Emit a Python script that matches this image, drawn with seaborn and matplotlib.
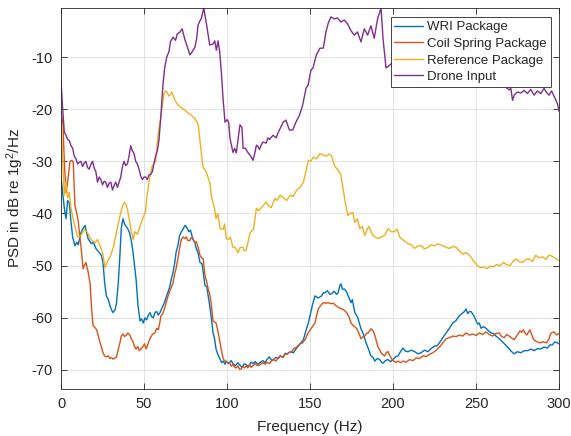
import numpy as np
import pandas as pd
import matplotlib
matplotlib.use("Agg")
import matplotlib.pyplot as plt
import seaborn as sns

series_names = ["WRI Package", "Coil Spring Package", "Reference Package", "Drone Input"]
series_colors = ["#0072BD", "#D95319", "#EDB120", "#7E2F8E"]

wri_f = [0, 1, 2, 3, 4, 5, 6, 7, 8.4, 9.5, 10.4, 12, 13, 14.5, 16.3, 18.3, 19.5, 21, 23, 24.3,
         25.3, 26.3, 27.3, 28.5, 29.5, 30.5, 31.3, 32.5, 33.4, 34.5, 35.5, 36.3, 37.3, 38.3, 39.3,
         40.3, 41.3, 42.5, 43.4, 45.2, 46.4, 47.6, 48.6, 49.6, 50.6, 51.6, 52.6, 53.6, 54.6, 55.6,
         56.6, 57.6, 58.6, 59.6, 61.4, 62.4, 63.4, 65.4, 66.5, 67.5, 68.5, 69.3, 70.5, 71.5, 72.5,
         73.5, 74.7, 75.5, 77, 78, 79.5, 80.5, 81.5, 82.7, 83.7, 84.9, 85.7, 86.7, 87.8, 88.7, 89.5,
         90.4, 91.6, 92.5, 93.4, 94.5, 95.8, 96.8, 97.8, 98.8, 99.6, 101, 102.5, 103.6, 105, 106.5,
         107.6, 109, 110.5, 111.6, 113, 114.5, 115.6, 117, 118.5, 120, 121.5, 123, 124, 125.5, 127,
         128, 129.5, 131, 132, 134, 135, 136, 138, 140, 141.5, 143, 144.5, 146, 147.5, 149, 150.4,
         151.5, 153, 155, 157, 158, 159, 160.5, 162, 163, 164.5, 166, 167, 168, 168.7, 169.5, 170.8,
         172, 173, 174.7, 175.5, 177, 178, 179, 180.7, 182, 183, 184, 185, 186.7, 188, 189, 190.5,
         192, 193, 194, 195.5, 197, 198.5, 200, 201.5, 203, 204.5, 206, 207.5, 209, 211, 213, 215,
         217, 219, 221, 223, 225, 226.5, 228, 230, 232, 234, 236, 238, 240, 241.5, 243, 244, 245,
         246, 247, 248.5, 249.5, 251, 252, 253, 254.5, 256, 257.5, 259, 260.5, 262, 264, 266, 268,
         270, 271.5, 273, 275, 277, 279, 281, 283, 285, 287, 289, 291, 293, 294.5, 296, 297.5, 299, 300]
wri_v = [-33, -36, -39, -41, -37.5, -38, -41.5, -44.5, -46.2, -45.5, -46, -43.7, -43, -42.3, -44.8,
         -45.8, -45.5, -46.7, -47.5, -48, -49.4, -53.3, -55.8, -56.5, -57.7, -58.5, -59, -58.5, -57.3,
         -53.3, -48, -42.9, -41, -42, -42.5, -43, -43.7, -45.5, -47.5, -52.5, -57.7, -60.6, -60.2, -61,
         -60, -60.4, -59.5, -59, -59.8, -60, -59, -58.8, -59.5, -59, -57.7, -57, -56, -54.2, -52.5,
         -51.3, -49.5, -47.5, -46, -44.2, -43.5, -43, -42.3, -42.5, -43.5, -43.2, -45, -45.5, -46.7,
         -47.7, -49.4, -49.6, -51.3, -53.8, -54, -55.8, -57.5, -59.6, -62.9, -64, -66, -67, -67.9,
         -68.6, -68.3, -68.9, -68.3, -68.8, -68.2, -68.8, -69.2, -68.6, -69, -69.5, -68.8, -69, -69.3,
         -68.5, -68.8, -68.4, -68.9, -68.6, -68.2, -68.6, -68, -67.5, -68.2, -68, -67.6, -67.8, -67.3,
         -67.5, -66.8, -67, -66.5, -66.7, -66, -65.4, -64.8, -64.2, -62.5, -61, -59, -57.5, -55.8,
         -56.2, -55.8, -55.2, -55.2, -54.8, -55.5, -55.4, -54.9, -55.5, -55.2, -53.8, -53.5, -54.5,
         -54.5, -55, -55.8, -57.1, -56.5, -59, -59.5, -60.2, -62.1, -63, -64, -65, -65.8, -67.3, -67.6,
         -68.3, -67.8, -68, -68.5, -68.7, -68.2, -68, -68.4, -68, -67.5, -67.3, -66.5, -65.8, -66.4,
         -66.5, -66.2, -66.5, -66.9, -66.7, -66.2, -66.5, -65.9, -65.4, -65.4, -64.8, -63.8, -62.9,
         -62, -61, -60.5, -59.6, -59.2, -58.8, -58.3, -59.2, -58.8, -58.8, -59.5, -60.2, -61.2, -61,
         -62, -61.7, -62, -62.5, -62.9, -63, -63.5, -64, -64.6, -65.3, -66, -66.5, -66.9, -66.5, -66.7,
         -66.3, -66.3, -66, -66.3, -65.9, -66, -65.6, -65.8, -65.2, -65.2, -64.6, -64.8, -65]

coil_f = [0, 1.2, 2, 3, 4, 5.4, 6.5, 7.4, 8.4, 9.5, 10.4, 11.2, 12, 13.3, 14, 15, 16.2, 17.5, 18.3,
          19.3, 20.3, 21.5, 22.5, 23.5, 24.3, 25.3, 26.3, 27.3, 28.5, 29.5, 30.5, 31.3, 32.3, 33.4,
          34.5, 35.5, 36.3, 37.3, 38.3, 39.3, 40.3, 41.4, 42.4, 43.4, 44.3, 45.2, 46.2, 47.2, 48.2,
          49.2, 50.3, 51.3, 52.4, 53.6, 55, 56.6, 57.6, 58.6, 59.5, 60.2, 61.3, 62.3, 63.4, 64.5, 66,
          67.5, 68.5, 69.3, 70.5, 71.7, 72.5, 73.5, 74.5, 75.5, 76.5, 77.5, 78.5, 79.5, 80.5, 81.5,
          82.6, 83.7, 84.7, 85.7, 86.7, 87.7, 88.7, 89.6, 90.4, 91.6, 92.5, 93.4, 94.5, 95.8, 96.8,
          97.8, 98.8, 100, 101.6, 102.6, 103.6, 104.6, 105.6, 106.6, 107.6, 108.6, 109.6, 110.6, 111.6,
          112.6, 113.6, 114.6, 115.6, 117, 118.5, 120, 121.5, 123, 124, 125.5, 127, 128, 129.5, 131,
          132, 133.5, 135, 136, 137.5, 139, 140, 142, 144, 145.5, 147, 148.8, 150.6, 152, 153, 154, 155,
          156.5, 158, 159.5, 161, 162.5, 164, 165, 167, 169, 170.5, 172, 173.5, 174.7, 176, 178, 179.5,
          180.7, 182, 183, 184, 185, 186.7, 188, 189, 190, 191, 192.5, 193.5, 195, 196, 197, 198.5,
          199.5, 200.5, 201.8, 203, 204.5, 206, 208, 210, 212, 214, 216, 218, 220, 222, 224, 226, 228,
          230, 232, 234, 236, 238, 240, 242, 244, 246, 248, 250, 252, 254, 256, 258, 260, 262, 264,
          265.5, 267, 268.5, 270, 271.5, 273, 274.5, 276.5, 277.5, 278.5, 279.5, 280.5, 281.5, 282.5,
          283.5, 284.5, 286, 288.5, 290.5, 292.5, 294, 295, 296, 297, 298.5, 300]
coil_v = [-20.5, -23, -30, -36, -34, -30, -29.8, -30.2, -38.5, -40, -41.5, -44, -46.2, -50.6, -50,
          -49.4, -51, -53.3, -57.7, -61.5, -61.8, -62.3, -63.5, -64.8, -65.5, -66.7, -67.3, -67.5,
          -67.3, -67.8, -67.6, -67.9, -67.8, -67.5, -66, -64.8, -63.5, -63.1, -63.6, -63.3, -62.9,
          -63.3, -64, -64.6, -65.5, -66, -65.5, -66.3, -65.9, -65.6, -65, -66, -65, -64, -63.2, -62.9,
          -62, -62.3, -61, -59.6, -59.2, -58.3, -57, -55.8, -54.5, -53.3, -51.5, -50.6, -48.5, -46.2,
          -45, -44.5, -44.8, -44.5, -45.2, -45.2, -44.6, -44.8, -45.6, -45.4, -46.5, -48, -48.5, -48.8,
          -51.9, -53, -54.5, -55.5, -57.1, -60.6, -60.8, -61, -62.5, -64.8, -66.5, -67.9, -68.3, -68.5,
          -68.7, -69.3, -68.9, -69.5, -69.6, -69.2, -69.9, -69.8, -69.3, -69.6, -69.2, -69.6, -69,
          -69.5, -69.2, -68.8, -69.2, -69, -68.6, -68.9, -68.5, -68.8, -68.2, -68, -68.3, -67.6, -67.3,
          -67.6, -67, -67, -66.6, -66.5, -66, -65.6, -65, -64.8, -64.2, -62.9, -62.1, -61.5, -61,
          -59.5, -58.3, -57.6, -57.1, -57.2, -57.1, -57.3, -57.2, -57.5, -58, -58.3, -58.5, -59, -59.8,
          -61, -61.5, -62, -63, -64, -63.6, -63.5, -63, -62.9, -62.1, -62.5, -63.3, -64.5, -65.6, -66.5,
          -67, -67.3, -66.6, -66.5, -67.5, -68, -68.3, -68.6, -68.3, -68.6, -68.3, -68.5, -68, -68.2,
          -67.7, -67.8, -67.3, -67.4, -67, -66.7, -66.2, -65.6, -64.8, -64, -63.8, -63.5, -63.6, -63.3,
          -63.5, -62.9, -63.3, -63.1, -63.4, -62.9, -63.2, -62.7, -63.2, -63.5, -63, -62.9, -63.6,
          -63.8, -63.2, -63.5, -63.9, -64.2, -63.5, -62.5, -62.8, -62.3, -62.9, -63.3, -62.8, -62.3,
          -63.2, -64, -64.5, -64.8, -64.6, -64.8, -64, -63, -62.8, -62.7, -63.3, -63]

ref_f = [0, 1, 2, 3, 4, 5, 6, 8, 10, 12, 14, 16, 18, 20.5, 22, 23.5, 25, 26.5, 28.3, 30, 31.5, 33,
         34.5, 36, 37.5, 38.5, 39.5, 40.4, 42, 43.5, 44.5, 46, 47.5, 49.5, 51, 51.7, 53, 54.7, 57,
         58.6, 60.7, 62, 63, 63.8, 65, 65.7, 66.7, 68, 68.7, 70, 71.7, 73, 74.7, 76, 77.7, 79, 80.7,
         82.7, 83.7, 85.5, 87.5, 88.5, 89.8, 90.5, 91.6, 92.5, 93.4, 94.5, 95.8, 97.8, 98.5, 99.6, 101,
         102, 103.6, 105, 106.6, 108, 109.6, 110.5, 111.6, 113, 113.9, 116, 117.7, 119, 121.7, 123.6,
         125, 126.6, 128.9, 130, 132, 134, 136, 138, 140, 142, 144, 146, 147.5, 149, 150.5, 152, 154,
         156, 158, 160, 161.5, 163, 165, 166.5, 168.5, 169.5, 170.8, 172.8, 174, 175.8, 177, 178.5,
         180, 181.5, 183, 184.5, 185.5, 187.5, 189, 191, 193, 195, 197, 199, 200.5, 202.5, 204, 205,
         207, 209, 211, 213, 215, 217, 219, 221, 223, 225, 227, 230, 232, 234, 236, 238, 240, 242, 244,
         246, 247.5, 249, 251, 252.5, 254.5, 256.5, 258.5, 260.5, 262.5, 264.5, 266.5, 268.5, 270.5,
         272, 274, 276, 278, 280, 282, 284, 286, 288, 290, 292, 294, 296, 298, 300]
ref_v = [-20.2, -30, -36.5, -34, -37, -36, -39, -42, -44.5, -44.2, -43, -43.7, -45, -45.6, -45, -46.2,
         -47.5, -50.4, -49, -48, -46.5, -44.2, -42, -39.8, -38.2, -37.9, -38.5, -39.8, -42.9, -45,
         -43.5, -44, -42.5, -40.8, -39.5, -36.9, -34, -31.1, -30, -24.6, -20.2, -17, -16.5, -16.7,
         -17.5, -17.3, -16.7, -17.8, -18.3, -19, -19.6, -19.8, -20.2, -20.6, -21, -21.3, -21.8, -23,
         -26, -31.1, -32, -33, -34.3, -36.5, -38, -39, -41, -40, -42.9, -43, -42, -44.8, -45, -44.5,
         -46.5, -46.5, -47.5, -46.5, -46.5, -47.2, -47, -45, -43.7, -43, -39, -39.5, -38.5, -37.8,
         -38.5, -38.9, -37.1, -37.5, -36.5, -37, -37.5, -36.5, -36.7, -35.5, -35, -34, -32, -29.8,
         -30, -29.2, -29.5, -28.5, -28.8, -29, -28.6, -29, -31, -31.5, -32.5, -34.5, -37, -40.4, -40,
         -39.8, -41.7, -41, -42.9, -42.5, -44.2, -43, -42.5, -44, -44.5, -44.8, -44.5, -44.2, -42.9,
         -43.5, -43.5, -43, -44.5, -44.8, -45.3, -45.8, -46, -46.7, -46.2, -46.2, -46.8, -46.5, -46,
         -46.2, -45.8, -46.2, -46.5, -46.7, -46.3, -46.5, -47.2, -47.8, -47.5, -48, -48.6, -49.3, -50,
         -50.4, -50.2, -50.6, -50.1, -50.2, -49.8, -50, -49.4, -49.8, -50, -49.3, -48.7, -49.2, -49.4,
         -48.8, -48.7, -49.2, -48, -48.5, -48.3, -48.8, -48, -48.2, -48.7, -49]

drone_f = [0, 1, 2, 3, 4, 5, 6, 7, 8, 9, 10, 11, 12, 13, 14, 15, 16, 17, 18, 19, 20, 21, 22, 23, 24,
           25, 26, 27, 28, 29, 30, 31, 32, 33, 34, 35, 36, 37, 38, 39, 40, 41, 42, 43, 44, 45, 46, 47,
           48, 49, 50, 51, 52, 53, 54, 55, 56, 57, 58, 59, 60, 61.5, 62.5, 63.7, 65, 66, 67.5, 69, 70,
           71.7, 73, 74.5, 75.5, 77.7, 79, 80.7, 81.7, 82.6, 84.6, 86, 87.8, 89.6, 91.6, 92.6, 93.6,
           94.6, 95.6, 96.6, 97.6, 98.8, 100, 101, 101.8, 103.6, 104.6, 105.6, 106.6, 107.8, 109, 109.7,
           111, 112, 113, 113.9, 115.7, 116.7, 117.7, 118.7, 119.6, 120.7, 121.7, 123.6, 124.6, 125.6,
           127.7, 129.6, 130.8, 132, 133.8, 135.5, 136.5, 137.6, 139.6, 141.5, 143.6, 145.6, 147.6,
           148.8, 150.6, 151.8, 153.8, 156, 158, 159.6, 161, 162.6, 164.6, 166.6, 168.6, 170.6, 172.6,
           174.6, 176.6, 178.6, 180.7, 182.7, 184.7, 186.7, 188.7, 190.7, 192.8, 194, 195.8, 197, 200,
           205, 210, 215, 220, 225, 230, 235, 240, 245, 250, 255, 260, 265, 268, 270, 271, 272, 273,
           275, 277, 279, 281, 283, 285, 287, 289, 291, 292.5, 294, 295.5, 297, 298.5, 299.3, 300]
drone_v = [-14.4, -20, -24.4, -25, -25.8, -26, -27, -27.5, -29, -29.5, -30.5, -30.2, -30, -31, -30.3,
           -30, -31.2, -31.5, -30.6, -30, -31.3, -32, -34, -33, -33.5, -34.5, -33.8, -34, -35, -34.2,
           -34, -35.5, -34.6, -34, -35, -34, -33, -31, -30, -30.8, -30.5, -29, -27, -28, -28.5, -30,
           -30.5, -31.5, -32.8, -33.5, -33, -33, -33.5, -32.6, -32.5, -32, -30.4, -29, -28, -26, -22,
           -15, -12, -10, -9, -7, -6.2, -6.8, -5.6, -5.2, -4.6, -6.5, -7.5, -9.6, -9, -8.1, -6.5, -3.8,
           -2.5, -0.6, -4, -7.7, -7.5, -6.9, -8.7, -6.9, -9, -12.9, -17.9, -22.5, -22, -22.5, -25.6,
           -28.3, -27.5, -28.4, -26, -23, -23.5, -27.5, -27.5, -28, -28.5, -28.8, -29.8, -28.5, -26.9,
           -27.2, -27.7, -26.8, -26.3, -26.5, -25.5, -25.8, -25, -25.5, -24.5, -23.7, -22.5, -22.1, -23,
           -24, -24, -22.5, -21.2, -19.2, -16, -15.4, -12.5, -12.1, -9.6, -8.3, -8.3, -5.2, -3.5, -2.3,
           -2.7, -2.5, -3.3, -2.9, -3.6, -4.9, -5.8, -5.2, -7.1, -4.6, -5.8, -4, -6.4, -2.7, -0.6, -6.5,
           -12.1, -11.8, -11, -10.5, -9.8, -10.3, -10, -11, -10.8, -11.5, -12, -11.8, -12.5, -13, -13.5,
           -14.5, -15.8, -16.3, -16, -18.3, -17.3, -16.7, -16.9, -16.4, -17, -16.2, -17.3, -16.5, -17,
           -16, -16.8, -17.3, -16.5, -17.5, -18.5, -19.2, -20.4]

x_ticks = [0, 50, 100, 150, 200, 250, 300]
y_ticks = [-70, -60, -50, -40, -30, -20, -10]

frames = []
for name, f, v in zip(series_names,
                      [wri_f, coil_f, ref_f, drone_f],
                      [wri_v, coil_v, ref_v, drone_v]):
    frames.append(pd.DataFrame({"Frequency": f, "PSD": v, "Series": name}))
df = pd.concat(frames, ignore_index=True)

sns.set_style("white")
plt.rcParams["font.family"] = ["Liberation Sans", "DejaVu Sans"]
plt.rcParams["mathtext.default"] = "regular"
plt.rcParams["axes.unicode_minus"] = False

dark = "#262626"
fig = plt.figure(figsize=(5.71, 4.36), dpi=100)
ax = fig.add_axes([61 / 571, 1 - 389 / 436, 498 / 571, 381 / 436])

sns.lineplot(data=df, x="Frequency", y="PSD", hue="Series", hue_order=series_names,
             palette=dict(zip(series_names, series_colors)), linewidth=1.0,
             estimator=None, sort=False, ax=ax, legend=True)

ax.set_xlim(0, 300)
ax.set_ylim(-73.65, -0.6)
ax.set_xticks(x_ticks)
ax.set_yticks(y_ticks)
ax.grid(True, color="#e3e3e3", linewidth=0.7)
ax.set_axisbelow(True)
for s in ax.spines.values():
    s.set_color(dark)
    s.set_linewidth(0.6)
    s.set_visible(True)
ax.tick_params(direction="in", length=4, width=0.6, colors=dark, labelsize=10.5,
               top=True, right=True, bottom=True, left=True, pad=6)
ax.set_xlabel("Frequency (Hz)", fontsize=11, color=dark, labelpad=6)
ax.set_ylabel("PSD in dB re 1g$^2$/Hz", fontsize=11, color=dark, labelpad=4)

handles, labels = ax.get_legend_handles_labels()
leg = ax.legend(handles, labels, loc="upper right", bbox_to_anchor=(0.984, 0.976),
                borderaxespad=0, fontsize=9.5, frameon=True, fancybox=False,
                framealpha=1, edgecolor=dark, handlelength=2.2, handletextpad=0.3,
                labelspacing=0.33, borderpad=0.3)
leg.get_frame().set_linewidth(0.6)

fig.savefig("out.png", dpi=100)
